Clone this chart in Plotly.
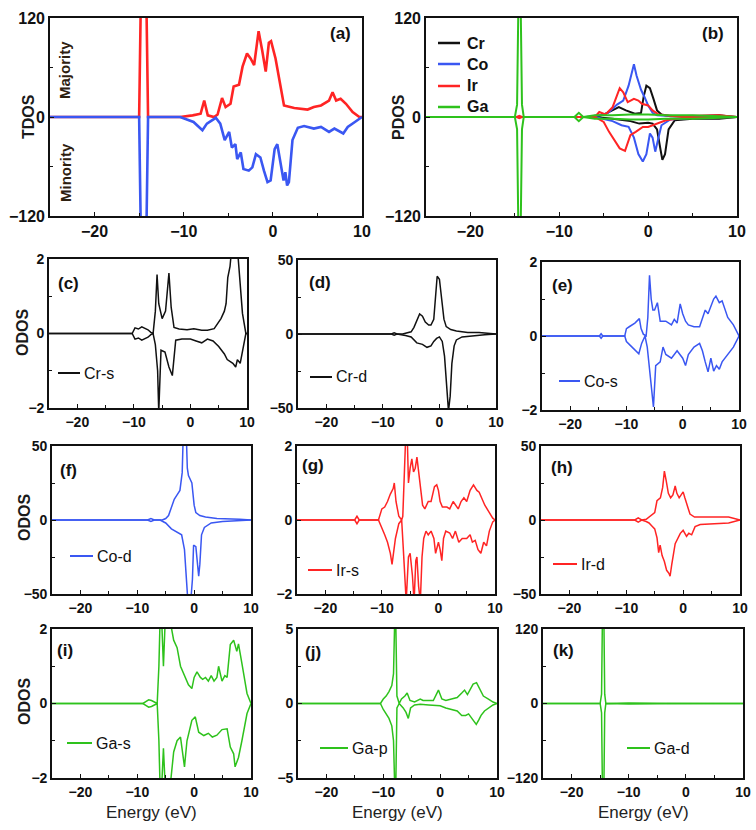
import plotly.graph_objects as go

# ---- data (energy in eV, DOS in states/eV) ----
# (a) total DOS
a_up_e = [-25, -15.0, -14.8, -14.2, -14.0, -10.4, -9.0, -8.1, -7.7, -7.3, -6.6, -6.2, -5.7, -5.3, -4.75, -4.4, -3.8, -3.4, -2.9, -2.5, -2.1, -1.6, -1.2, -0.8, -0.45, -0.2, 0.3, 0.9, 1.25, 2.4, 3.9, 4.6, 5.4, 6.3, 6.7, 7.1, 7.6, 8.2, 8.95, 9.7, 10]
a_up = [0, 0, 150, 150, 0, 0, 2, 4, 20, 2, 0, 3, 23, 12, 16, 37, 39, 61, 77, 71, 63, 104, 81, 55, 90, 92, 71, 37, 14, 11, 9, 12, 14, 20, 30, 20, 22, 16, 6, 0, 0]
a_dn_e = [-25, -15.0, -14.8, -14.2, -14.0, -10.4, -8.9, -7.9, -7.4, -6.4, -5.9, -5.4, -4.9, -4.6, -4.2, -4.0, -3.6, -3.3, -2.7, -2.3, -1.9, -1.4, -1.0, -0.6, -0.25, 0.2, 0.5, 0.9, 1.2, 1.4, 1.6, 1.8, 2.2, 2.8, 3.5, 4.6, 5.4, 6.3, 6.9, 7.9, 8.4, 9.2, 9.9, 10]
a_dn = [0, 0, -150, -150, 0, 0, -6, -16, -8, -1, -8, -28, -18, -37, -33, -51, -43, -63, -65, -61, -45, -49, -65, -79, -77, -39, -33, -57, -77, -67, -83, -79, -28, -13, -11, -14, -12, -18, -14, -20, -12, -6, -1, 0]

# (b) partial DOS
b_cr_up_e = [-25, -6, -5, -4, -3.3, -2.5, -1.5, -0.8, -0.5, -0.2, 0.2, 0.6, 1, 1.5, 2.5, 5, 8, 9, 10]
b_cr_up = [0, 0, 3, 8, 12, 8, 4, 5, 25, 38, 35, 22, 8, 3, 1, 1, 2, 1, 0]
b_cr_dn_e = [-25, -6, -4, -2, -1, 0, 0.5, 1, 1.4, 1.6, 1.9, 2.3, 3, 5, 8, 10]
b_cr_dn = [0, 0, -2, -5, -8, -7, -8, -15, -40, -52, -45, -15, -4, -2, -2, 0]
b_co_up_e = [-25, -7, -5.5, -4.5, -3.5, -2.8, -2.2, -1.6, -1.3, -0.8, -0.4, 0, 0.5, 1, 3, 10]
b_co_up = [0, 0, 2, 5, 15, 20, 38, 64, 50, 33, 24, 14, 5, 2, 1, 0]
b_co_dn_e = [-25, -6, -4, -3, -2.2, -1.6, -1.1, -0.6, -0.2, 0.2, 0.5, 0.8, 1.1, 1.5, 2.5, 5, 10]
b_co_dn = [0, 0, -5, -10, -12, -25, -45, -54, -45, -20, -25, -42, -28, -10, -3, -1, 0]
b_ir_up_e = [-25, -14.8, -14.5, -14.2, -6, -5.5, -4.8, -4, -3.2, -2.8, -2.3, -1.6, -1.1, -0.7, 0, 0.5, 1.2, 3, 8, 10]
b_ir_up = [0, 0, 1.5, 0, 0, 6, 3, 12, 35, 30, 18, 22, 20, 16, 14, 8, 3, 1, 2, 0]
b_ir_dn_e = [-25, -14.8, -14.5, -14.2, -6, -5, -4.4, -3.8, -3.2, -2.6, -2, -1.4, -0.6, 0, 1, 2, 4, 10]
b_ir_dn = [0, 0, -1.5, 0, 0, -6, -18, -28, -38, -41, -22, -18, -12, -12, -8, -4, -1, 0]
b_ga_e = [-25, -15, -14.75, -14.6, -14.35, -14.2, -14, -8.3, -7.8, -7.3, -6, -4, -2, 0, 2, 5, 8, 10]
b_ga_up = [0, 0, 15, 140, 140, 15, 0, 0, 5, 0, 2, 2, 3, 3, 2, 2, 1, 0]
b_ga_dn = [0, 0, -15, -140, -140, -15, 0, 0, -5, 0, -2, -2, -3, -3, -2, -2, -1, 0]

# (c) Cr-s
c_up_e = [-25, -10.3, -9.8, -9.2, -8.6, -8.0, -7.5, -7.0, -6.6, -6.2, -5.9, -5.6, -5.0, -4.4, -3.8, -3.4, -2.9, -2.0, -0.6, 0.6, 2.0, 3.0, 4.2, 5.4, 6.0, 6.3, 6.6, 7.0, 7.3, 8.3, 8.8, 9.2, 9.8, 10]
c_up = [0, 0, 0.15, 0.12, 0.18, 0.14, 0.1, 0.03, 0, 0.6, 1.58, 0.8, 0.4, 0.6, 1.62, 0.7, 0.16, 0.12, 0.1, 0.13, 0.09, 0.09, 0.13, 0.4, 0.6, 0.8, 1.5, 1.8, 2.3, 2.3, 1.2, 0.54, 0, 0]
c_dn_e = [-25, -10.3, -9.8, -9.2, -8.6, -8.0, -7.5, -7.0, -6.6, -6.2, -5.8, -5.6, -5.2, -4.5, -3.8, -3.2, -2.6, -1.5, 0, 1, 2, 3, 4, 5, 6, 6.5, 7, 7.5, 8, 8.3, 8.8, 9.3, 9.8, 10]
c_dn = [0, 0, -0.15, -0.12, -0.18, -0.14, -0.1, -0.03, 0, -0.3, -1.0, -2.1, -0.45, -0.5, -0.9, -1.13, -0.18, -0.15, -0.15, -0.2, -0.25, -0.15, -0.2, -0.35, -0.55, -0.7, -0.75, -0.8, -0.9, -0.7, -0.8, -0.4, 0, 0]

# (d) Cr-d
d_up_e = [-25, -8.5, -8, -7.5, -6.5, -6, -5.5, -5, -4.5, -4, -3.5, -3, -2.5, -1.9, -1.5, -1, -0.7, -0.4, 0, 0.4, 0.8, 1.2, 2, 3, 5, 7, 8, 10]
d_up = [0, 0, 0.8, 0, 0, 0.6, 0.8, 1.5, 4.5, 9, 13.5, 12, 8, 6, 6, 10, 25, 39, 37, 25, 10, 5, 3, 2, 1, 1, 0.5, 0]
d_dn_e = [-25, -8.5, -8, -7.5, -6, -5, -4, -3, -2.2, -1.5, -1, -0.5, 0, 0.5, 0.9, 1.2, 1.6, 1.9, 2.2, 2.6, 3, 4, 6, 8, 10]
d_dn = [0, 0, -0.8, 0, -1, -2, -6, -7, -9, -8, -5, -3, -2, -5, -15, -35, -52, -42, -20, -8, -4, -2, -1, -0.5, 0]

# (e) Co-s
e_up_e = [-25, -14.8, -14.5, -14.2, -10.3, -10.0, -9.5, -9.0, -8.5, -7.7, -7.4, -7.0, -6.5, -6.2, -5.9, -5.6, -5.3, -5.0, -4.5, -4.0, -3.0, -2.0, -1.5, -1.0, -0.45, 0, 0.5, 1, 2, 3, 3.5, 4, 4.5, 5, 5.5, 5.9, 6.5, 7, 7.5, 8, 9, 10]
e_up = [0, 0, 0.06, 0, 0, 0.2, 0.25, 0.3, 0.35, 0.47, 0.2, 0.05, 0, 0.5, 1.64, 1.0, 0.7, 0.7, 0.9, 0.4, 0.4, 0.3, 0.45, 0.35, 0.87, 0.6, 0.4, 0.3, 0.25, 0.25, 0.5, 0.7, 0.6, 0.8, 1.0, 1.08, 0.9, 0.95, 0.7, 0.5, 0.3, 0]
e_dn_e = [-25, -14.8, -14.5, -14.2, -10.3, -10, -9, -8.3, -7.8, -7.3, -6.7, -6.3, -5.8, -5.2, -4.8, -4, -3.5, -3, -2, -1, 0, 0.5, 1, 2, 3, 3.5, 4, 4.5, 5, 5.5, 6, 6.5, 7, 7.5, 8, 9, 10]
e_dn = [0, 0, -0.06, 0, 0, -0.15, -0.3, -0.4, -0.48, -0.2, 0, -0.3, -1.0, -1.92, -0.8, -0.7, -0.3, -0.5, -0.6, -0.4, -0.6, -0.8, -0.5, -0.3, -0.2, -0.4, -0.7, -0.97, -0.6, -0.95, -0.8, -0.9, -0.7, -0.6, -0.5, -0.3, 0]

# (f) Co-d
f_up_e = [-25, -8.2, -7.6, -7.0, -5.6, -5.0, -4.5, -4.0, -3.5, -3.0, -2.5, -2.1, -1.9, -1.4, -1.2, -1.0, -0.7, -0.4, 0, 0.3, 1, 2, 4, 6, 8, 10]
f_up = [0, 0, 1, 0, 0, 1, 3, 8, 14, 17, 20, 32, 60, 60, 35, 30, 28, 25, 10, 5, 3, 2, 1, 1, 0.5, 0]
f_dn_e = [-25, -8.2, -7.6, -7.0, -6, -5, -4, -3, -2.2, -1.7, -1.4, -1.1, -0.6, -0.3, -0.1, 0.3, 0.6, 0.8, 1, 1.3, 1.8, 3, 5, 10]
f_dn = [0, 0, -1, 0, 0, -2, -6, -8, -10, -20, -35, -55, -55, -40, -17, -18, -30, -38, -30, -10, -5, -2, -1, 0]

# (g) Ir-s
g_up_e = [-25, -14.8, -14.4, -14.0, -10.6, -10, -9.5, -9, -8.5, -8, -7.8, -7.5, -7, -6.5, -6.3, -6.0, -5.8, -5.5, -5.3, -5.0, -4.7, -4.4, -4.1, -3.8, -3.5, -3.2, -2.8, -2.4, -1.8, -1.3, -0.7, -0.3, 0, 0.3, 0.7, 1.5, 2, 2.6, 3, 3.5, 4, 4.5, 5, 5.6, 6.2, 6.8, 7.2, 7.6, 8.2, 9, 9.6, 10]
g_up = [0, 0, 0.1, 0, 0, 0.3, 0.35, 0.5, 0.7, 0.85, 1.0, 0.5, 0.1, 0, 0.1, 1.6, 2.2, 2.2, 1.0, 1.4, 1.65, 1.3, 1.4, 1.7, 1.3, 0.8, 0.4, 0.3, 0.5, 0.5, 0.9, 0.95, 0.8, 0.5, 0.35, 0.35, 0.3, 0.5, 0.4, 0.3, 0.5, 0.6, 0.5, 0.8, 0.95, 0.8, 0.75, 0.6, 0.4, 0.2, 0.05, 0]
g_dn_e = [-25, -14.8, -14.4, -14.0, -10.6, -10, -9.5, -9, -8.5, -8.2, -7.6, -7, -6.5, -6.2, -5.9, -5.7, -5.3, -5.0, -4.6, -4.3, -4.0, -3.8, -3.5, -3.2, -2.9, -2.6, -2.2, -1.8, -1.3, -0.8, -0.5, 0, 0.3, 0.6, 0.9, 1.3, 2, 2.5, 3, 3.6, 4.2, 5, 5.6, 6, 6.5, 7, 7.5, 8, 8.5, 9, 9.6, 10]
g_dn = [0, 0, -0.1, 0, 0, -0.25, -0.4, -0.6, -0.9, -1.2, -0.5, -0.1, 0, -0.8, -1.5, -2.2, -1.0, -0.9, -1.5, -2.2, -1.1, -1.0, -1.8, -2.2, -1.0, -0.5, -0.3, -0.4, -0.3, -0.5, -0.9, -0.6, -0.8, -1.1, -0.5, -0.3, -0.35, -0.5, -0.3, -0.6, -0.5, -0.5, -0.4, -0.6, -0.55, -0.8, -0.9, -0.6, -0.7, -0.3, -0.05, 0]

# (h) Ir-d
h_up_e = [-25, -14.4, -14.2, -14.0, -8.5, -7.9, -7.3, -6.5, -6, -5.5, -5, -4.6, -4, -3.6, -3.3, -3.0, -2.6, -2.2, -1.8, -1.4, -1.1, -0.7, -0.3, 0, 0.3, 0.7, 1.2, 2, 3, 5, 7, 8, 9, 10]
h_up = [0, 0, 0.5, 0, 0, 1.5, 0, 0.5, 2, 4, 5, 13, 15, 22, 33, 27, 18, 15, 17, 23, 18, 15, 17, 19, 15, 10, 4, 2, 2, 2, 2.5, 2, 1, 0]
h_dn_e = [-25, -14.4, -14.2, -14.0, -8.5, -7.9, -7.3, -6.5, -6, -5.5, -5, -4.6, -4.3, -4.05, -3.7, -3.3, -2.9, -2.5, -2.3, -2.0, -1.4, -0.5, 0, 0.6, 1.0, 1.5, 2.1, 3, 5, 7, 8, 9, 10]
h_dn = [0, 0, -0.5, 0, 0, -1.5, 0, -1, -2, -4, -6, -12, -22, -17, -24, -28, -34, -36, -38, -30, -16, -9, -7, -11, -9, -10, -4.5, -3, -2.5, -2, -2, -1, 0]

# (i) Ga-s
i_up_e = [-25, -9, -8.5, -8, -7.5, -7, -6.5, -6.2, -6.0, -5.7, -5.4, -5.1, -4.6, -4.2, -3.6, -3.0, -2.4, -1.55, -1.0, -0.4, 0.0, 0.5, 1.1, 1.5, 2, 2.5, 3, 3.5, 4.0, 4.3, 4.9, 5.4, 5.8, 6.36, 6.95, 7.5, 7.8, 8.4, 9.3, 10]
i_up = [0, 0, 0.05, 0.1, 0.08, 0.03, 0, 1.0, 2.2, 2.2, 1.0, 2.2, 2.2, 2.2, 1.7, 1.5, 1.0, 0.7, 0.5, 0.4, 0.7, 0.85, 0.7, 0.65, 0.7, 0.6, 0.75, 0.6, 0.7, 1.0, 0.6, 0.75, 0.7, 1.58, 1.7, 1.4, 1.6, 1.08, 0.27, 0]
i_dn_e = [-25, -9, -8.5, -8, -7.5, -7, -6.5, -6.2, -6.0, -5.7, -5.4, -5.1, -4.6, -4.2, -3.6, -3.0, -2.4, -1.7, -1.26, -0.4, 0.2, 0.8, 1.7, 2.5, 3.2, 4.0, 4.9, 5.8, 6.36, 6.95, 7.2, 7.8, 8.4, 9.3, 10]
i_dn = [0, 0, -0.05, -0.1, -0.08, -0.03, 0, -1.0, -2.2, -2.2, -1.2, -2.2, -2.2, -2.2, -1.3, -1.0, -0.9, -1.7, -1.0, -0.45, -0.36, -0.77, -0.86, -0.8, -0.9, -0.85, -0.7, -0.68, -1.17, -1.35, -1.7, -1.45, -1.0, -0.27, 0]

# (j) Ga-p
j_up_e = [-25, -14.4, -14.2, -14.0, -10.5, -10, -9.5, -9, -8.5, -8.2, -8.0, -7.8, -7.6, -7.2, -6.8, -6.2, -5.8, -5.3, -4.5, -3.5, -3, -2, -1.2, -0.3, 0.3, 1, 2, 3, 3.8, 4.3, 4.8, 5.2, 5.8, 6.4, 7, 7.6, 8.5, 9.3, 10]
j_up = [0, 0, 0.05, 0, 0, 0.3, 0.5, 0.8, 1.2, 2.0, 5.5, 5.5, 0.5, 0, 0.3, 0.5, 0.7, 0.2, 0.1, 0.3, 0.2, 0.2, 0.2, 0.9, 0.3, 0.2, 0.3, 0.4, 0.7, 0.9, 0.6, 0.9, 1.3, 1.4, 1.0, 0.5, 0.3, 0.1, 0]
j_dn_e = [-25, -14.4, -14.2, -14.0, -10.5, -10, -9.5, -9, -8.5, -8.2, -8.0, -7.8, -7.6, -7.2, -6.5, -6, -5.6, -5.2, -4.5, -3.5, -2, -1, 0, 1, 2, 3, 3.8, 4.5, 5, 5.6, 6.35, 6.8, 7.2, 7.8, 8.5, 9.3, 10]
j_dn = [0, 0, -0.05, 0, 0, -0.4, -0.7, -1.0, -1.5, -2.5, -5.5, -5.5, -0.3, 0, -0.3, -0.6, -1.0, -0.3, -0.1, -0.05, -0.1, -0.15, -0.15, -0.3, -0.4, -0.5, -0.8, -0.8, -0.7, -1.0, -1.4, -1.1, -0.8, -0.5, -0.3, -0.1, 0]

# (k) Ga-d
k_e = [-25, -15, -14.75, -14.6, -14.35, -14.2, -14, -10, -5, 0, 5, 10]
k_up = [0, 0, 15, 140, 140, 15, 0, 0.8, 0.5, 0.5, 0.3, 0]
k_dn = [0, 0, -15, -140, -140, -15, 0, -0.8, -0.5, -0.5, -0.3, 0]

RED = "#ff2424"
BLUE = "#3a57f2"
GREEN = "#2ec21c"
BLACK = "#111111"

curves = {
    "a": [(a_up_e, a_up, RED), (a_dn_e, a_dn, BLUE)],
    "b": [(b_cr_up_e, b_cr_up, BLACK), (b_cr_dn_e, b_cr_dn, BLACK),
          (b_co_up_e, b_co_up, BLUE), (b_co_dn_e, b_co_dn, BLUE),
          (b_ir_up_e, b_ir_up, RED), (b_ir_dn_e, b_ir_dn, RED),
          (b_ga_e, b_ga_up, GREEN), (b_ga_e, b_ga_dn, GREEN)],
    "c": [(c_up_e, c_up, BLACK), (c_dn_e, c_dn, BLACK)],
    "d": [(d_up_e, d_up, BLACK), (d_dn_e, d_dn, BLACK)],
    "e": [(e_up_e, e_up, BLUE), (e_dn_e, e_dn, BLUE)],
    "f": [(f_up_e, f_up, BLUE), (f_dn_e, f_dn, BLUE)],
    "g": [(g_up_e, g_up, RED), (g_dn_e, g_dn, RED)],
    "h": [(h_up_e, h_up, RED), (h_dn_e, h_dn, RED)],
    "i": [(i_up_e, i_up, GREEN), (i_dn_e, i_dn, GREEN)],
    "j": [(j_up_e, j_up, GREEN), (j_dn_e, j_dn, GREEN)],
    "k": [(k_e, k_up, GREEN), (k_e, k_dn, GREEN)],
}

# panel boxes in pixels: key, left, right, top, bottom, y limit
panels = [
    ("a", 50, 362, 18, 216, 120),
    ("b", 426, 737, 18, 216, 120),
    ("c", 49, 247, 259, 408, 2),
    ("d", 298, 496, 260, 408, 50),
    ("e", 542, 739, 262, 410, 2),
    ("f", 52, 251, 446, 594, 50),
    ("g", 297, 495, 446, 594, 2),
    ("h", 541, 740, 446, 594, 50),
    ("i", 52, 251, 629, 778, 2),
    ("j", 298, 497, 629, 778, 5),
    ("k", 543, 743, 629, 778, 120),
]

W, H = 756, 830
FONT = "Arial"


def px(x):
    return x / W


def py(y):
    return 1 - y / H


def label(x, y, text, size, weight="normal", color="#111", angle=0, xanchor="center"):
    return dict(
        xref="paper", yref="paper", x=px(x), y=py(y), text=text,
        xanchor=xanchor, yanchor="middle", textangle=angle, showarrow=False,
        font=dict(family=FONT, size=size, color=color, weight=weight),
    )


fig = go.Figure()
annotations = []
shapes = []

for i, (key, x0, x1, top, bot, ymax) in enumerate(panels):
    n = "" if i == 0 else str(i + 1)
    lw = 2.6 if key == "a" else (2.0 if key == "b" else 1.5)
    for e, v, c in curves[key]:
        assert len(e) == len(v), (key, len(e), len(v))
        fig.add_trace(
            go.Scatter(
                x=e, y=v, mode="lines",
                line=dict(color=c, width=lw),
                xaxis="x" + n, yaxis="y" + n,
                showlegend=False, hoverinfo="skip",
            )
        )
    fs = 16 if key in "ab" else 14
    tickfont = dict(family=FONT, size=fs, color="#111", weight="bold")
    common = dict(
        ticks="inside", ticklen=4, tickwidth=1.2, tickcolor="#111",
        showline=True, linecolor="#111", linewidth=1.6, mirror=True,
        showgrid=False, zeroline=False, tickfont=tickfont,
        fixedrange=True, automargin=False,
    )
    fig.layout["xaxis" + n] = dict(
        domain=[px(x0), px(x1)], anchor="y" + n, range=[-25, 10],
        tickvals=[-20, -10, 0, 10],
        minor=dict(tickvals=[-15, -5, 5], ticks="inside", ticklen=3, tickcolor="#111"),
        **common,
    )
    fig.layout["yaxis" + n] = dict(
        domain=[py(bot), py(top)], anchor="x" + n, range=[-ymax, ymax],
        tickvals=[-ymax, 0, ymax],
        minor=dict(tickvals=[-ymax / 2, ymax / 2], ticks="inside", ticklen=3, tickcolor="#111"),
        **common,
    )

# panel letters
letters = {
    "a": (340, 33), "b": (713, 33), "c": (68, 283), "d": (320, 282),
    "e": (562, 285), "f": (68, 470), "g": (313, 465), "h": (562, 467),
    "i": (65, 650), "j": (313, 652), "k": (563, 650),
}
for k, (x, y) in letters.items():
    annotations.append(label(x, y, "(%s)" % k, 17, "bold"))

# axis titles
ytitles = [("TDOS", 28, 117), ("PDOS", 398, 117), ("ODOS", 22, 333),
           ("ODOS", 24, 518), ("ODOS", 24, 702)]
for t, x, y in ytitles:
    annotations.append(label(x, y, t, 16, "bold", "#1a1a1a", -90))
for t, y in [("Majority", 70), ("Minority", 173)]:
    annotations.append(label(65, y, t, 15, "bold", "#2e2010", -90))
for x in [151, 397, 643]:
    annotations.append(label(x, 812, "Energy (eV)", 17, color="#222"))

# legend of panel (b)
for name, c, y in [("Cr", BLACK, 43), ("Co", BLUE, 64), ("Ir", RED, 86), ("Ga", GREEN, 107)]:
    shapes.append(dict(type="line", xref="paper", yref="paper",
                       x0=px(438), x1=px(460), y0=py(y), y1=py(y),
                       line=dict(color=c, width=2.5)))
    annotations.append(label(465, y, name, 16, "bold", xanchor="left"))

# one-entry legends of the orbital panels
orb_legends = [
    (58, 80, 373, "Cr-s", BLACK), (310, 332, 377, "Cr-d", BLACK),
    (559, 580, 381, "Co-s", BLUE), (70, 93, 556, "Co-d", BLUE),
    (308, 332, 570, "Ir-s", RED), (553, 577, 564, "Ir-d", RED),
    (67, 92, 743, "Ga-s", GREEN), (320, 348, 748, "Ga-p", GREEN),
    (627, 650, 748, "Ga-d", GREEN),
]
for x0, x1, y, t, c in orb_legends:
    shapes.append(dict(type="line", xref="paper", yref="paper",
                       x0=px(x0), x1=px(x1), y0=py(y), y1=py(y),
                       line=dict(color=c, width=2)))
    annotations.append(label(x1 + 2, y, t, 16, xanchor="left"))

fig.update_layout(
    width=W, height=H, margin=dict(l=0, r=0, t=0, b=0, autoexpand=False),
    paper_bgcolor="white", plot_bgcolor="white",
    showlegend=False, annotations=annotations, shapes=shapes,
)

# pin the graph to the top-left corner of the page (no body margin)
pin = (
    "document.body.style.margin='0';"
    "var gd=document.getElementById('{plot_id}');"
    "gd.style.position='fixed';gd.style.left='0px';gd.style.top='0px';"
)
fig.write_html("out.html", post_script=pin, config={"displayModeBar": False})
